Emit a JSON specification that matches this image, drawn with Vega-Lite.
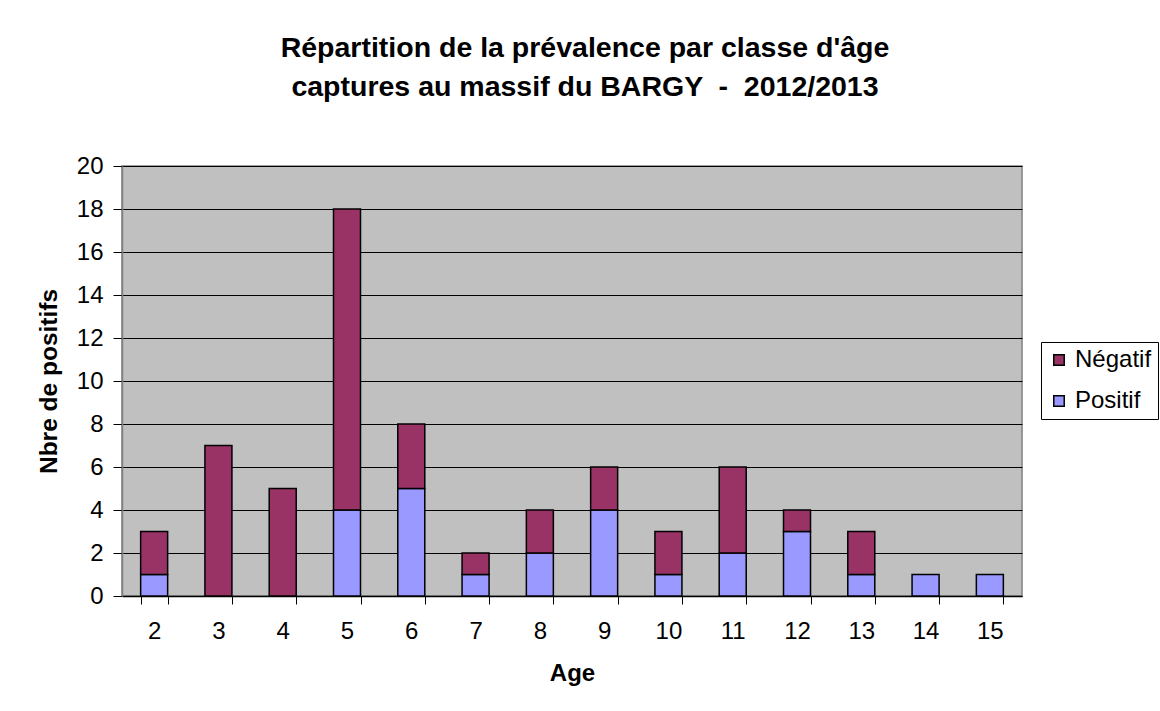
{
  "$schema": "https://vega.github.io/schema/vega-lite/v6.json",
  "width": 900,
  "height": 430,
  "autosize": "none",
  "padding": {"left": 122, "top": 166, "right": 138, "bottom": 115},
  "background": "white",
  "title": {
    "text": ["Répartition de la prévalence par classe d'âge", "captures au massif du BARGY \u00a0-\u00a0 2012/2013"],
    "font": "Liberation Sans",
    "fontSize": 28.5,
    "fontWeight": "bold",
    "color": "black",
    "anchor": "middle",
    "dx": 13,
    "offset": 53,
    "lineHeight": 39
  },
  "data": {
    "values": [
      {"Age": 2, "Type": "Positif", "n": 1},
      {"Age": 2, "Type": "Négatif", "n": 2},
      {"Age": 3, "Type": "Négatif", "n": 7},
      {"Age": 4, "Type": "Négatif", "n": 5},
      {"Age": 5, "Type": "Positif", "n": 4},
      {"Age": 5, "Type": "Négatif", "n": 14},
      {"Age": 6, "Type": "Positif", "n": 5},
      {"Age": 6, "Type": "Négatif", "n": 3},
      {"Age": 7, "Type": "Positif", "n": 1},
      {"Age": 7, "Type": "Négatif", "n": 1},
      {"Age": 8, "Type": "Positif", "n": 2},
      {"Age": 8, "Type": "Négatif", "n": 2},
      {"Age": 9, "Type": "Positif", "n": 4},
      {"Age": 9, "Type": "Négatif", "n": 2},
      {"Age": 10, "Type": "Positif", "n": 1},
      {"Age": 10, "Type": "Négatif", "n": 2},
      {"Age": 11, "Type": "Positif", "n": 2},
      {"Age": 11, "Type": "Négatif", "n": 4},
      {"Age": 12, "Type": "Positif", "n": 3},
      {"Age": 12, "Type": "Négatif", "n": 1},
      {"Age": 13, "Type": "Positif", "n": 1},
      {"Age": 13, "Type": "Négatif", "n": 2},
      {"Age": 14, "Type": "Positif", "n": 1},
      {"Age": 15, "Type": "Positif", "n": 1}
    ]
  },
  "mark": {"type": "bar", "stroke": "black", "strokeWidth": 1.5},
  "encoding": {
    "x": {
      "field": "Age",
      "type": "ordinal",
      "scale": {"paddingInner": 0.58, "paddingOuter": 0.29},
      "axis": {
        "title": "Age",
        "labelAngle": 0,
        "tickBand": "extent",
        "tickSize": 8,
        "tickColor": "black",
        "domainColor": "black",
        "labelPadding": 15,
        "titlePadding": 18,
        "labelFontSize": 24,
        "titleFontSize": 24
      }
    },
    "y": {
      "field": "n",
      "type": "quantitative",
      "stack": "zero",
      "scale": {"domain": [0, 20]},
      "axis": {
        "title": "Nbre de positifs",
        "values": [0, 2, 4, 6, 8, 10, 12, 14, 16, 18, 20],
        "grid": true,
        "gridColor": "black",
        "gridWidth": 1,
        "gridOpacity": 1,
        "tickSize": 9,
        "tickColor": "black",
        "domainColor": "#808080",
        "labelPadding": 10,
        "titlePadding": 15,
        "labelFontSize": 24,
        "titleFontSize": 24.5
      }
    },
    "color": {
      "field": "Type",
      "type": "nominal",
      "scale": {"domain": ["Négatif", "Positif"], "range": ["#993366", "#9999FF"]},
      "legend": {
        "title": null,
        "orient": "none",
        "legendX": 919,
        "legendY": 176,
        "symbolType": "square",
        "symbolSize": 110,
        "symbolStrokeColor": "black",
        "symbolStrokeWidth": 1.5,
        "symbolOpacity": 1,
        "labelFontSize": 24,
        "labelOffset": 4,
        "rowPadding": 17,
        "padding": 6,
        "strokeColor": "black",
        "fillColor": "white"
      }
    },
    "order": {"field": "Type", "sort": "descending"}
  },
  "config": {
    "font": "Liberation Sans",
    "view": {"fill": "#C0C0C0", "stroke": "#808080", "strokeWidth": 1.5},
    "axis": {
      "labelFont": "Liberation Sans",
      "titleFont": "Liberation Sans",
      "labelColor": "black",
      "titleColor": "black",
      "titleFontWeight": "bold",
      "domainWidth": 1.5,
      "tickWidth": 1
    },
    "legend": {"labelFont": "Liberation Sans", "labelColor": "black"}
  }
}
